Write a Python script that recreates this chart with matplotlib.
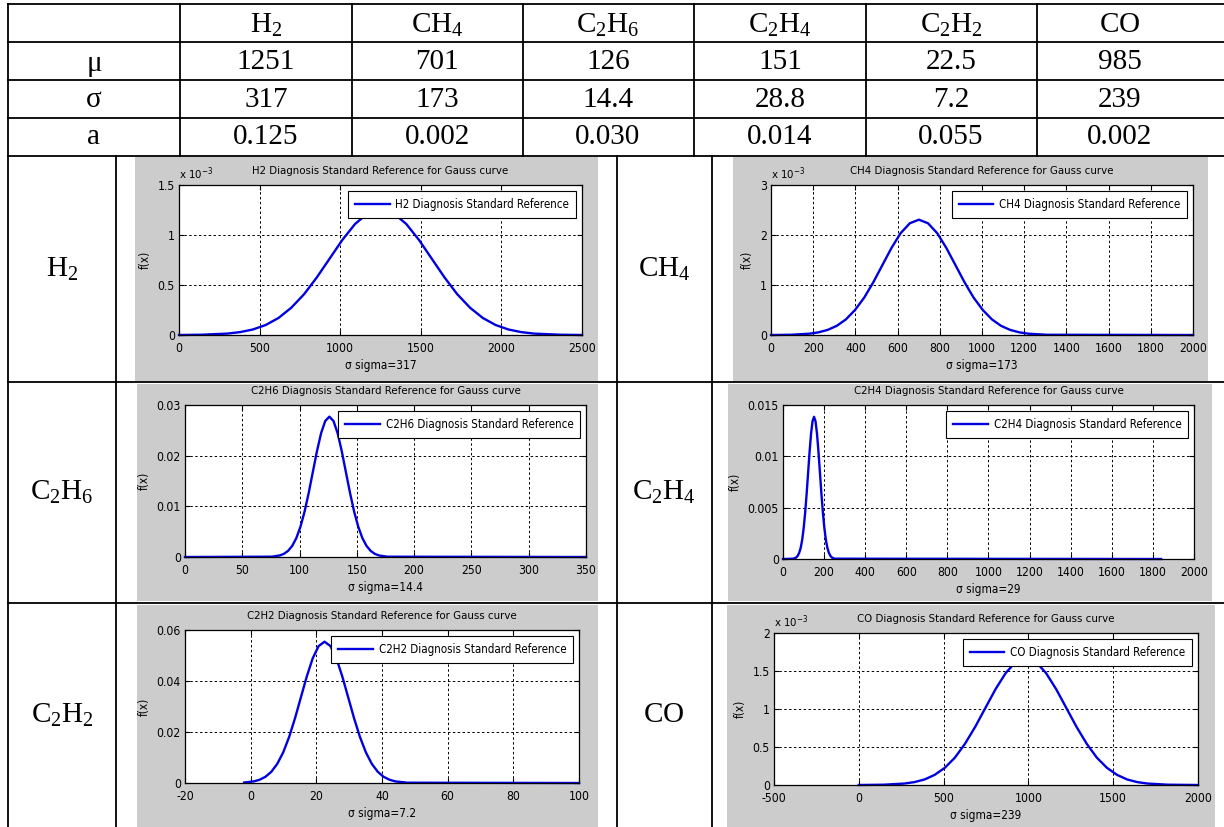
import matplotlib
matplotlib.use('Agg')
import matplotlib.pyplot as plt
from matplotlib.patches import Rectangle
from matplotlib.ticker import FuncFormatter, MultipleLocator

W, H = 1224, 827
plt.rcParams['font.family'] = ['DejaVu Sans']
plt.rcParams['font.stretch'] = 'condensed'
plt.rcParams['mathtext.fontset'] = 'custom'
plt.rcParams['mathtext.rm'] = 'Liberation Serif'
plt.rcParams['mathtext.sf'] = 'DejaVu Sans:stretch=condensed'

# table values
gases = ['H2', 'CH4', 'C2H6', 'C2H4', 'C2H2', 'CO']
gas_labels = [r'$\mathrm{H_2}$', r'$\mathrm{CH_4}$', r'$\mathrm{C_2H_6}$',
              r'$\mathrm{C_2H_4}$', r'$\mathrm{C_2H_2}$', r'$\mathrm{CO}$']
mu_txt = ['1251', '701', '126', '151', '22.5', '985']
sigma_txt = ['317', '173', '14.4', '28.8', '7.2', '239']
a_txt = ['0.125', '0.002', '0.030', '0.014', '0.055', '0.002']
sigma_xlabel = ['317', '173', '14.4', '29', '7.2', '239']

# curves (H2, CH4, CO in units of 10^-3)
h2_x = [0, 142, 300, 379, 458, 538, 617, 696, 776, 855, 934, 1013, 1092, 1172, 1251,
        1330, 1410, 1489, 1568, 1647, 1726, 1806, 1885, 1964, 2044, 2123, 2202, 2361, 2500]
h2_y = [0, 0.003, 0.014, 0.029, 0.055, 0.100, 0.170, 0.272, 0.408, 0.576, 0.763, 0.950, 1.110, 1.219, 1.258,
        1.219, 1.110, 0.950, 0.763, 0.576, 0.408, 0.272, 0.170, 0.100, 0.055, 0.029, 0.014, 0.003, 0]

ch4_x = [0, 96, 182, 225, 268, 312, 355, 398, 442, 485, 528, 571, 614, 658, 701,
         744, 788, 831, 874, 917, 960, 1004, 1047, 1090, 1134, 1177, 1220, 1306, 2000]
ch4_y = [0, 0.005, 0.026, 0.053, 0.101, 0.184, 0.312, 0.499, 0.749, 1.056, 1.399, 1.741, 2.035, 2.235, 2.306,
         2.235, 2.035, 1.741, 1.399, 1.056, 0.749, 0.499, 0.312, 0.184, 0.101, 0.053, 0.026, 0.005, 0]

c2h6_x = [0, 75.6, 82.8, 86.4, 90, 93.6, 97.2, 100.8, 104.4, 108, 111.6, 115.2, 118.8, 122.4, 126,
          129.6, 133.2, 136.8, 140.4, 144, 147.6, 151.2, 154.8, 158.4, 162, 165.6, 169.2, 176.4, 350]
c2h6_y = [0, 0.00006, 0.00031, 0.00063, 0.00122, 0.00220, 0.00375, 0.00599, 0.00899, 0.01268, 0.01680,
          0.02091, 0.02445, 0.02685, 0.02770, 0.02685, 0.02445, 0.02091, 0.01680, 0.01268, 0.00899,
          0.00599, 0.00375, 0.00220, 0.00122, 0.00063, 0.00031, 0.00006, 0]

c2h4_x = [0, 50.2, 64.6, 71.8, 79, 86.2, 93.4, 100.6, 107.8, 115, 122.2, 129.4, 136.6, 143.8, 151,
          158.2, 165.4, 172.6, 179.8, 187, 194.2, 201.4, 208.6, 215.8, 223, 230.2, 237.4, 251.8, 1840]
c2h4_y = [0, 0.00003, 0.00015, 0.00032, 0.00061, 0.00110, 0.00187, 0.00300, 0.00450, 0.00634, 0.00840,
          0.01045, 0.01222, 0.01342, 0.01385, 0.01342, 0.01222, 0.01045, 0.00840, 0.00634, 0.00450,
          0.00300, 0.00187, 0.00110, 0.00061, 0.00032, 0.00015, 0.00003, 0]

c2h2_x = [-2, 0.9, 2.7, 4.5, 6.3, 8.1, 9.9, 11.7, 13.5, 15.3, 17.1, 18.9, 20.7, 22.5,
          24.3, 26.1, 27.9, 29.7, 31.5, 33.3, 35.1, 36.9, 38.7, 40.5, 42.3, 44.1, 47.7, 100]
c2h2_y = [0.00017, 0.00062, 0.00126, 0.00243, 0.00441, 0.00750, 0.01199, 0.01799, 0.02537, 0.03361,
          0.04182, 0.04890, 0.05370, 0.05541, 0.05370, 0.04890, 0.04182, 0.03361, 0.02537, 0.01799,
          0.01199, 0.00750, 0.00441, 0.00243, 0.00126, 0.00062, 0.00012, 0]

co_x = [0, 148, 268, 328, 388, 447, 507, 567, 626, 686, 746, 806, 866, 925, 985,
        1045, 1104, 1164, 1224, 1284, 1344, 1403, 1463, 1523, 1582, 1642, 1702, 1822, 2000]
co_y = [0, 0.004, 0.019, 0.038, 0.073, 0.133, 0.226, 0.361, 0.542, 0.764, 1.012, 1.260, 1.473, 1.618, 1.669,
        1.618, 1.473, 1.260, 1.012, 0.764, 0.542, 0.361, 0.226, 0.133, 0.073, 0.038, 0.019, 0.004, 0]

curves = {'H2': (h2_x, h2_y), 'CH4': (ch4_x, ch4_y), 'C2H6': (c2h6_x, c2h6_y),
          'C2H4': (c2h4_x, c2h4_y), 'C2H2': (c2h2_x, c2h2_y), 'CO': (co_x, co_y)}

# axis ranges: xlim, xstep, ylim, ystep, x10^-3 tag
ranges = {'H2': ((0, 2500), 500, (0, 1.5), 0.5, True),
          'CH4': ((0, 2000), 200, (0, 3), 1, True),
          'C2H6': ((0, 350), 50, (0, 0.03), 0.01, False),
          'C2H4': ((0, 2000), 200, (0, 0.015), 0.005, False),
          'C2H2': ((-20, 100), 20, (0, 0.06), 0.02, False),
          'CO': ((-500, 2000), 500, (0, 2), 0.5, True)}

# pixel layout: axes box, gray panel, label cell centre
layout = {'H2': ((179, 185, 582, 335), (135, 157, 598, 381), (62, 269)),
          'CH4': ((771, 185, 1193, 335), (733, 157, 1208, 381), (664, 269)),
          'C2H6': ((185, 405, 586, 557), (137, 384, 598, 601), (62, 492)),
          'C2H4': ((783, 405, 1194, 559), (728, 384, 1212, 601), (664, 492)),
          'C2H2': ((185, 630, 579, 783), (137, 605, 598, 827), (62, 715)),
          'CO': ((774, 633, 1198, 785), (727, 605, 1215, 827), (664, 715))}

FS = 8.2

fig = plt.figure(figsize=(W / 100, H / 100), dpi=100)
bg = fig.add_axes([0, 0, 1, 1])
bg.set_xlim(0, W)
bg.set_ylim(H, 0)
bg.axis('off')

# table grid
row_lines = [4, 42, 80, 118, 156]
col_lines = [8, 180, 352, 523, 694, 866, 1037]
for y in row_lines + [382, 603]:
    bg.plot([8, W], [y, y], color='k', lw=1.3)
for x in col_lines:
    bg.plot([x, x], [4, 156], color='k', lw=1.3)
for x in [8, 116, 617, 712]:
    bg.plot([x, x], [156, H], color='k', lw=1.3)

serif = dict(family='Liberation Serif', stretch='normal', fontsize=21, ha='center', va='center')
centers = [94, 266, 437, 608, 780, 951, 1120]
bg.text(centers[0], 64, 'μ', **serif)
bg.text(centers[0], 100, 'σ', **serif)
bg.text(centers[0], 137, 'a', **serif)
for i in range(6):
    cx = centers[i + 1]
    bg.text(cx, 25, gas_labels[i], **serif)
    bg.text(cx, 62, mu_txt[i], **serif)
    bg.text(cx, 100, sigma_txt[i], **serif)
    bg.text(cx, 137, a_txt[i], **serif)

fmt = FuncFormatter(lambda v, p: '%g' % round(v, 6))

for i, g in enumerate(gases):
    box, gray, lab = layout[g]
    bg.add_patch(Rectangle((gray[0], gray[1]), gray[2] - gray[0], gray[3] - gray[1],
                           facecolor='#cccccc', edgecolor='none'))
    bg.text(lab[0], lab[1], gas_labels[i], **serif)

    ax = fig.add_axes([box[0] / W, 1 - box[3] / H, (box[2] - box[0]) / W, (box[3] - box[1]) / H])
    xs, ys = curves[g]
    xlim, xstep, ylim, ystep, milli = ranges[g]
    ax.plot(xs, ys, color='#0000e0', lw=1.7, clip_on=False,
            label=g + ' Diagnosis Standard Reference')
    ax.set_xlim(*xlim)
    ax.set_ylim(*ylim)
    ax.xaxis.set_major_locator(MultipleLocator(xstep))
    ax.yaxis.set_major_locator(MultipleLocator(ystep))
    ax.xaxis.set_major_formatter(fmt)
    ax.yaxis.set_major_formatter(fmt)
    ax.grid(True, color='k', linestyle=(0, (2.5, 2.5)), linewidth=0.7)
    ax.tick_params(direction='in', length=3.5, width=0.8, top=True, right=True,
                   labelsize=FS + 0.5, pad=3)
    ax.tick_params(axis='x', pad=5)
    for s in ax.spines.values():
        s.set_linewidth(0.9)
    ax.set_title(g + ' Diagnosis Standard Reference for Gauss curve', fontsize=FS, pad=8)
    ax.set_xlabel('σ sigma=' + sigma_xlabel[i], fontsize=FS + 0.3, labelpad=3)
    ax.set_ylabel('f(x)', fontsize=FS + 0.3, labelpad=4)
    if milli:
        ax.text(0.0, 1.02, r'x $\mathsf{10^{-3}}$', transform=ax.transAxes,
                ha='left', va='bottom', fontsize=FS)
    leg = ax.legend(loc='upper right', fontsize=FS + 0.1, fancybox=False, framealpha=1,
                    edgecolor='k', handlelength=3.0, handletextpad=0.5,
                    borderpad=0.6, borderaxespad=0.5)
    leg.get_frame().set_linewidth(0.8)

fig.savefig('out.png', dpi=100)
